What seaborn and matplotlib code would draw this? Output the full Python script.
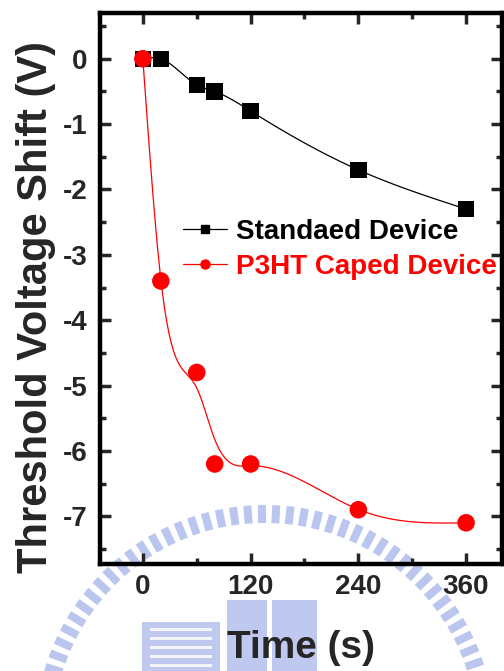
import numpy as np
import pandas as pd
import matplotlib
matplotlib.use("Agg")
import matplotlib.pyplot as plt
from matplotlib.lines import Line2D
from matplotlib.patches import Rectangle, Wedge, Polygon
import seaborn as sns

# Threshold voltage shift under bias stress
time_s = [0, 20, 60, 80, 120, 240, 360]
standard_shift = [0.0, 0.0, -0.4, -0.5, -0.8, -1.7, -2.3]
p3ht_shift = [0.0, -3.4, -4.8, -6.2, -6.2, -6.9, -7.1]
series_names = ["Standaed Device", "P3HT Caped Device"]
x_ticks = [0, 120, 240, 360]
y_ticks = [0, -1, -2, -3, -4, -5, -6, -7]

# relative weight of each point in the smoothed guide curve
p3ht_fit_weight = [100, 100, 8, 3, 8, 3, 100]


def smoothing_spline(x, y, lam, w=None, step=0.5):
    """Weighted, penalised (second-difference) smoothing curve on a fine grid."""
    x = np.asarray(x, float)
    y = np.asarray(y, float)
    w = np.ones_like(x) if w is None else np.asarray(w, float)
    xs = np.arange(x.min(), x.max() + step / 2, step)
    n = len(xs)
    idx = np.round((x - xs[0]) / step).astype(int)
    W = np.zeros((n, n))
    W[idx, idx] = w
    b = np.zeros(n)
    b[idx] = w * y
    D = np.diff(np.eye(n), 2, axis=0) / step ** 2
    A = W + lam * step * (D.T @ D)
    return xs, np.linalg.solve(A, b)


sns.set_style("ticks")
plt.rcParams["font.family"] = ["Liberation Sans", "DejaVu Sans"]
plt.rcParams["font.weight"] = "bold"
plt.rcParams["axes.unicode_minus"] = False

fig = plt.figure(figsize=(5.04, 6.71), dpi=100)
fig.patch.set_facecolor("white")

# faint seal drawn behind the chart
bg = fig.add_axes([0, 0, 1, 1], zorder=-5)
bg.set_xlim(0, 504)
bg.set_ylim(671, 0)
bg.axis("off")
seal = "#a4b3ea"
cx, cy = 265, 735
for ang in np.arange(8, 175, 3.6):
    a = np.deg2rad(ang)
    ux, uy = np.cos(a), -np.sin(a)
    px, py = -uy, ux
    r0, r1, hw = 212, 230, 4.0
    pts = [(cx + ux * r0 + px * hw, cy + uy * r0 + py * hw),
           (cx + ux * r1 + px * hw, cy + uy * r1 + py * hw),
           (cx + ux * r1 - px * hw, cy + uy * r1 - py * hw),
           (cx + ux * r0 - px * hw, cy + uy * r0 - py * hw)]
    bg.add_patch(Polygon(pts, closed=True, fc=seal, ec="none", alpha=0.75))
bg.add_patch(Wedge((cx, cy), 216, 5, 175, width=13, fc=seal, ec="none", alpha=0.75))
bg.add_patch(Wedge((cx, cy), 200, 5, 175, width=4, fc=seal, ec="none", alpha=0.55))
bg.add_patch(Rectangle((142, 622), 78, 60, fc=seal, ec="none", alpha=0.7))
for yy in range(628, 671, 9):
    bg.add_patch(Rectangle((150, yy), 62, 3, fc="white", ec="none", alpha=0.85))
bg.add_patch(Rectangle((227, 600), 40, 80, fc=seal, ec="none", alpha=0.7))
bg.add_patch(Rectangle((272, 600), 45, 80, fc=seal, ec="none", alpha=0.7))

ax = fig.add_axes([0.198, 0.1595, 0.798, 0.8211])
ax.patch.set_alpha(0)

df = pd.DataFrame({"time": time_s, "standard": standard_shift, "p3ht": p3ht_shift})

xs_b, ys_b = smoothing_spline(df["time"], df["standard"], lam=20.0)
xs_r, ys_r = smoothing_spline(df["time"], df["p3ht"], lam=4000.0, w=p3ht_fit_weight)

sns.lineplot(x=xs_b, y=ys_b, ax=ax, color="black", lw=0.9, sort=False, zorder=2)
sns.lineplot(x=xs_r, y=ys_r, ax=ax, color="red", lw=0.9, sort=False, zorder=2)
sns.scatterplot(data=df, x="time", y="standard", ax=ax, marker="s", s=140,
                color="black", edgecolor="none", zorder=3)
sns.scatterplot(data=df, x="time", y="p3ht", ax=ax, marker="o", s=160,
                color="red", edgecolor="none", zorder=4)

ax.set_xlim(-48, 400)
ax.set_ylim(-7.73, 0.7)
ax.set_xticks(x_ticks)
ax.set_xticks(np.arange(0, 400, 60), minor=True)
ax.set_yticks(y_ticks)
ax.set_yticks(np.arange(-7.5, 0.6, 0.5), minor=True)
ax.tick_params(which="both", direction="in", top=True, right=True, width=2.5,
               labelsize=20)
ax.tick_params(which="major", length=8)
ax.tick_params(which="minor", length=4)
ax.tick_params(axis="x", pad=7)
ax.tick_params(axis="y", pad=9)
for lab in ax.get_xticklabels() + ax.get_yticklabels():
    lab.set_fontweight("bold")
for sp in ax.spines.values():
    sp.set_linewidth(3.2)
    sp.set_color("black")

ax.set_xlabel("Time (s)", fontsize=28, fontweight="bold")
ax.set_ylabel("Threshold Voltage Shift (V)", fontsize=30, fontweight="bold")
ax.xaxis.set_label_coords(0.5, -0.152)
ax.yaxis.set_label_coords(-0.158, 0.466)
ax.xaxis.label.set_va("center")
ax.yaxis.label.set_va("center")

handles = [
    Line2D([], [], color="black", lw=0.9, marker="s", ms=6),
    Line2D([], [], color="red", lw=0.9, marker="o", ms=6.5),
]
leg = ax.legend(handles, series_names, loc="upper left",
                bbox_to_anchor=(0.206, 0.626), frameon=False,
                prop={"size": 20, "weight": "bold"}, handlelength=1.6,
                handletextpad=0.33, labelspacing=0.32, borderpad=0,
                borderaxespad=0)
for txt, c in zip(leg.get_texts(), ["black", "red"]):
    txt.set_color(c)

fig.savefig("out.png", dpi=100, facecolor="white")
